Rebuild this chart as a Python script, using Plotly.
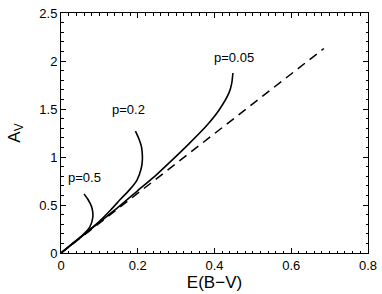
import plotly.graph_objects as go

# Dashed reference line A_V = 3.1 E(B-V)
dash_x = [0.0, 0.685]
dash_y = [0.0, 2.13]

# p = 0.05 curve
p005_x = [0.0, 0.05, 0.10, 0.15, 0.20, 0.25, 0.29, 0.334, 0.378, 0.412, 0.438, 0.445, 0.448]
p005_y = [0.0, 0.16, 0.32, 0.48, 0.65, 0.82, 0.97, 1.14, 1.32, 1.49, 1.67, 1.77, 1.875]

# p = 0.2 curve
p02_x = [0.0, 0.05, 0.10, 0.13, 0.155, 0.179, 0.198, 0.209, 0.212, 0.210, 0.203, 0.194]
p02_y = [0.0, 0.16, 0.33, 0.45, 0.56, 0.66, 0.76, 0.88, 0.97, 1.10, 1.19, 1.27]

# p = 0.5 curve
p05_x = [0.0, 0.03, 0.057, 0.075, 0.083, 0.080, 0.070, 0.060]
p05_y = [0.0, 0.10, 0.19, 0.27, 0.375, 0.48, 0.56, 0.615]

labels = ["p=0.5", "p=0.2", "p=0.05"]
label_x = [0.062, 0.175, 0.452]
label_y = [0.79, 1.49, 2.04]

FONT = "Liberation Sans, Arial, Helvetica"

fig = go.Figure()
fig.add_trace(go.Scatter(x=dash_x, y=dash_y, mode="lines",
                         line=dict(color="black", width=1.5, dash="9px,6px")))
for xs, ys in [(p005_x, p005_y), (p02_x, p02_y), (p05_x, p05_y)]:
    fig.add_trace(go.Scatter(x=xs, y=ys, mode="lines",
                             line=dict(color="black", width=1.6, shape="spline", smoothing=0.6)))

for t, x, y in zip(labels, label_x, label_y):
    fig.add_annotation(x=x, y=y, text=t, showarrow=False,
                       font=dict(size=13, color="black", family=FONT))

axis_common = dict(
    showgrid=False, zeroline=False, showline=True, linecolor="black", linewidth=1,
    mirror="allticks", ticks="inside", ticklen=5, tickcolor="black", automargin=False,
    tickfont=dict(size=13, color="black", family=FONT),
)
fig.update_xaxes(range=[0, 0.8], tickvals=[0, 0.2, 0.4, 0.6, 0.8],
                 ticktext=["0", "0.2", "0.4", "0.6", "0.8"],
                 minor=dict(dtick=0.02, ticks="inside", ticklen=2.5, tickcolor="black"),
                 title=dict(text="E(B\u2212V)", font=dict(size=17, color="black", family=FONT),
                            standoff=3),
                 **axis_common)
fig.update_yaxes(range=[0, 2.5], tickvals=[0, 0.5, 1, 1.5, 2, 2.5],
                 ticktext=["0", "0.5", "1", "1.5", "2", "2.5"],
                 minor=dict(dtick=0.1, ticks="inside", ticklen=2.5, tickcolor="black"),
                 title=dict(text="A<sub>V</sub>", font=dict(size=17, color="black", family=FONT),
                            standoff=14),
                 **axis_common)

fig.update_layout(width=382, height=294, showlegend=False,
                  plot_bgcolor="white", paper_bgcolor="white",
                  margin=dict(l=61, r=14, t=13, b=41))
fig.write_html(
    "out.html",
    config={"displayModeBar": False},
    post_script="document.body.style.margin='0';document.body.style.overflow='hidden';",
)
